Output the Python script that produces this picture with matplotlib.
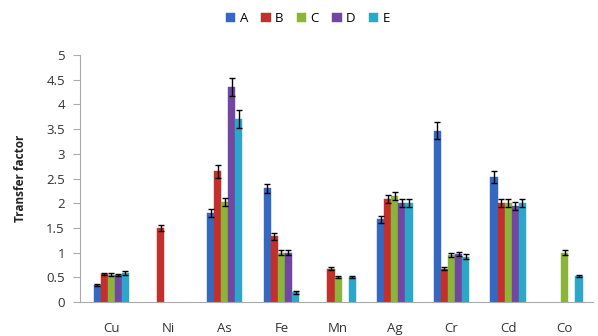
import matplotlib
matplotlib.use("Agg")
import matplotlib.pyplot as plt
import numpy as np

categories = ["Cu", "Ni", "As", "Fe", "Mn", "Ag", "Cr", "Cd", "Co"]
series = ["A", "B", "C", "D", "E"]
A = [0.35, 0, 1.80, 2.30, 0, 1.68, 3.47, 2.53, 0]
B = [0.57, 1.50, 2.65, 1.33, 0.67, 2.08, 0.67, 2.00, 0]
C = [0.55, 0, 2.03, 1.00, 0.50, 2.15, 0.95, 2.00, 1.00]
D = [0.55, 0, 4.35, 1.00, 0, 2.00, 0.97, 1.95, 0]
E = [0.58, 0, 3.70, 0.20, 0.50, 2.00, 0.92, 2.00, 0.53]
A_err = [0.02, 0, 0.08, 0.10, 0, 0.07, 0.17, 0.12, 0]
B_err = [0.02, 0.07, 0.13, 0.07, 0.03, 0.08, 0.03, 0.08, 0]
C_err = [0.03, 0, 0.08, 0.05, 0.02, 0.08, 0.04, 0.08, 0.05]
D_err = [0.02, 0, 0.18, 0.05, 0, 0.08, 0.04, 0.08, 0]
E_err = [0.04, 0, 0.18, 0.03, 0.02, 0.08, 0.05, 0.08, 0.02]
yticks = [0, 0.5, 1, 1.5, 2, 2.5, 3, 3.5, 4, 4.5, 5]
ytick_labels = ["0", "0.5", "1", "1.5", "2", "2.5", "3", "3.5", "4", "4.5", "5"]

colors = ["#3568C0", "#C42F2C", "#8BB53A", "#7246A3", "#2CA7C9"]
values = [A, B, C, D, E]
errors = [A_err, B_err, C_err, D_err, E_err]

plt.rcParams['font.family'] = ['Open Sans', 'DejaVu Sans']
fig = plt.figure(figsize=(5.98, 3.36), dpi=100)
ax = fig.add_axes([0.134, 0.101, 0.858, 0.735])

x = np.arange(len(categories))
w = 0.125
for i, (s, v, e, c) in enumerate(zip(series, values, errors, colors)):
    pos = x + (i - 2) * w
    v = np.array(v); e = np.array(e)
    mask = v > 0
    ax.bar(pos[mask], v[mask], width=w, color=c, edgecolor=c, linewidth=0.3, label=s, zorder=2)
    ax.errorbar(pos[mask], v[mask], yerr=e[mask], fmt='none', ecolor='black',
                elinewidth=1.0, capsize=2.5, capthick=1.0, zorder=3)

ax.set_xlim(-0.55, len(categories) - 0.5)
ax.set_ylim(0, 5)
ax.set_yticks(yticks)
ax.set_yticklabels(ytick_labels)
ax.set_xticks(x)
ax.set_xticklabels(categories)
ax.tick_params(axis='x', length=0, pad=14, labelsize=9.5, colors='#333333')
ax.tick_params(axis='y', length=5, width=0.8, pad=6, labelsize=9.5, colors='#333333')
ax.tick_params(axis='y', color='#AAAAAA')
for sp in ['top', 'right']:
    ax.spines[sp].set_visible(False)
for sp in ['left', 'bottom']:
    ax.spines[sp].set_color('#AAAAAA')
    ax.spines[sp].set_linewidth(0.8)
ax.set_ylabel("Transfer factor", fontsize=8.5, fontweight='bold', color='#222222', labelpad=14)

fig.legend(loc='upper center', bbox_to_anchor=(0.515, 1.0), ncol=5, frameon=False,
           fontsize=9.5, handlelength=0.7, handleheight=0.7, columnspacing=1.0,
           handletextpad=0.35)

fig.savefig("out.png", dpi=100)
